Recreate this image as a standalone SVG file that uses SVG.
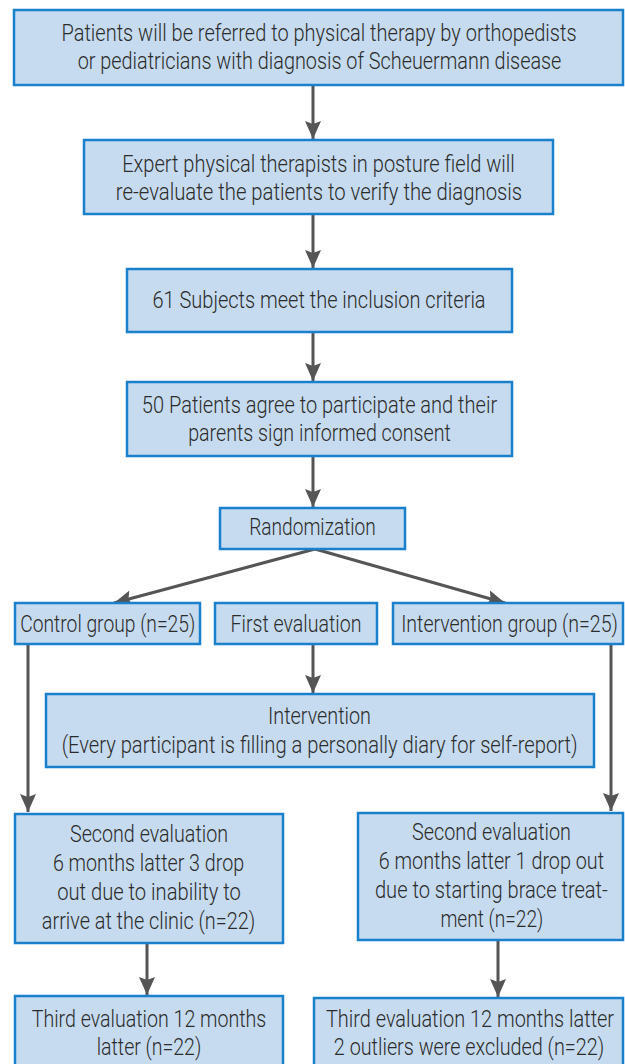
<svg xmlns="http://www.w3.org/2000/svg" width="625" height="1064" viewBox="0 0 625 1064">
<style>
.box{fill:#c6dbf0;stroke:#1a80cc;stroke-width:2.5}
text{font-family:Roboto,"Liberation Sans",sans-serif;font-size:23px;font-weight:300;fill:#2b2b2b;text-anchor:middle}
.c line{stroke:#555;stroke-width:3;fill:none}
</style>
<defs>
<marker id="ah" markerUnits="userSpaceOnUse" markerWidth="18" markerHeight="16" refX="18" refY="8" orient="auto">
<path d="M0,0 L18,8 L0,16 L3,8 z" fill="#555"/>
</marker>
</defs>
<rect width="625" height="1064" fill="#fff"/>
<g class="c" id="connectors">
<line x1="313" y1="85" x2="313" y2="139" marker-end="url(#ah)"/>
<line x1="313" y1="214" x2="313" y2="268" marker-end="url(#ah)"/>
<line x1="313" y1="332" x2="313" y2="381" marker-end="url(#ah)"/>
<line x1="313" y1="456" x2="313" y2="507" marker-end="url(#ah)"/>
<line x1="315" y1="549" x2="114" y2="603" marker-end="url(#ah)"/>
<line x1="315" y1="549" x2="505" y2="603" marker-end="url(#ah)"/>
<line x1="313" y1="644" x2="313" y2="693" marker-end="url(#ah)"/>
<line x1="28" y1="644" x2="28" y2="812" marker-end="url(#ah)"/>
<line x1="611" y1="644" x2="611" y2="811" marker-end="url(#ah)"/>
<line x1="147" y1="943" x2="147" y2="995" marker-end="url(#ah)"/>
<line x1="498" y1="940" x2="498" y2="997" marker-end="url(#ah)"/>
</g>
<g id="n1"><rect class="box" x="14" y="10" width="609" height="75"/>
<text transform="translate(319,41) scale(0.85,1)" textLength="606" lengthAdjust="spacingAndGlyphs">Patients will be referred to physical therapy by orthopedists</text>
<text transform="translate(319.5,69) scale(0.85,1)" textLength="569" lengthAdjust="spacingAndGlyphs">or pediatricians with diagnosis of Scheuermann disease</text></g>
<g id="n2"><rect class="box" x="84" y="140" width="469" height="74"/>
<text transform="translate(318.5,172) scale(0.85,1)" textLength="462" lengthAdjust="spacingAndGlyphs">Expert physical therapists in posture field will</text>
<text transform="translate(319,200) scale(0.85,1)" textLength="478" lengthAdjust="spacingAndGlyphs">re-evaluate the patients to verify the diagnosis</text></g>
<g id="n3"><rect class="box" x="127" y="269" width="385" height="63"/>
<text transform="translate(319,308) scale(0.85,1)" textLength="392" lengthAdjust="spacingAndGlyphs">61 Subjects meet the inclusion criteria</text></g>
<g id="n4"><rect class="box" x="127" y="382" width="385" height="74"/>
<text transform="translate(319.5,413) scale(0.85,1)" textLength="418" lengthAdjust="spacingAndGlyphs">50 Patients agree to participate and their</text>
<text transform="translate(319.5,441) scale(0.85,1)" textLength="309" lengthAdjust="spacingAndGlyphs">parents sign informed consent</text></g>
<g id="n5"><rect class="box" x="220" y="508" width="185" height="41"/>
<text transform="translate(312.5,535) scale(0.85,1)" textLength="149" lengthAdjust="spacingAndGlyphs">Randomization</text></g>
<g id="n6"><rect class="box" x="15" y="603" width="185" height="41"/>
<text transform="translate(107.7,632) scale(0.85,1)" textLength="206" lengthAdjust="spacingAndGlyphs">Control group (n=25)</text></g>
<g id="n7"><rect class="box" x="215" y="603" width="162" height="41"/>
<text transform="translate(296,632) scale(0.85,1)" textLength="154" lengthAdjust="spacingAndGlyphs">First evaluation</text></g>
<g id="n8"><rect class="box" x="393" y="603" width="230" height="41"/>
<text transform="translate(509.5,632) scale(0.85,1)" textLength="255" lengthAdjust="spacingAndGlyphs">Intervention group (n=25)</text></g>
<g id="n9"><rect class="box" x="46" y="694" width="548" height="73"/>
<text transform="translate(319.5,724) scale(0.85,1)" textLength="121" lengthAdjust="spacingAndGlyphs">Intervention</text>
<text transform="translate(319.6,753) scale(0.85,1)" textLength="607" lengthAdjust="spacingAndGlyphs">(Every participant is filling a personally diary for self-report)</text></g>
<g id="n10"><rect class="box" x="15" y="814" width="268" height="129"/>
<text transform="translate(149,842) scale(0.85,1)" textLength="186" lengthAdjust="spacingAndGlyphs">Second evaluation</text>
<text transform="translate(148.5,871) scale(0.85,1)" textLength="225" lengthAdjust="spacingAndGlyphs">6 months latter 3 drop</text>
<text transform="translate(149,900) scale(0.85,1)" textLength="216" lengthAdjust="spacingAndGlyphs">out due to inability to</text>
<text transform="translate(148.5,929) scale(0.85,1)" textLength="251" lengthAdjust="spacingAndGlyphs">arrive at the clinic (n=22)</text></g>
<g id="n11"><rect class="box" x="358" y="813" width="265" height="127"/>
<text transform="translate(491.5,840) scale(0.85,1)" textLength="187" lengthAdjust="spacingAndGlyphs">Second evaluation</text>
<text transform="translate(491.4,869) scale(0.85,1)" textLength="265" lengthAdjust="spacingAndGlyphs">6 months latter 1 drop out</text>
<text transform="translate(491.4,898) scale(0.85,1)" textLength="274" lengthAdjust="spacingAndGlyphs">due to starting brace treat-</text>
<text transform="translate(491.8,927) scale(0.85,1)" textLength="121" lengthAdjust="spacingAndGlyphs">ment (n=22)</text></g>
<g id="n12"><rect class="box" x="15" y="996" width="268" height="80"/>
<text transform="translate(149,1027) scale(0.85,1)" textLength="276" lengthAdjust="spacingAndGlyphs">Third evaluation 12 months</text>
<text transform="translate(149,1055) scale(0.85,1)" textLength="123" lengthAdjust="spacingAndGlyphs">latter (n=22)</text></g>
<g id="n13"><rect class="box" x="314" y="998" width="309" height="80"/>
<text transform="translate(470,1027) scale(0.85,1)" textLength="339" lengthAdjust="spacingAndGlyphs">Third evaluation 12 months latter</text>
<text transform="translate(469,1055) scale(0.85,1)" textLength="318" lengthAdjust="spacingAndGlyphs">2 outliers were excluded (n=22)</text></g>
</svg>
